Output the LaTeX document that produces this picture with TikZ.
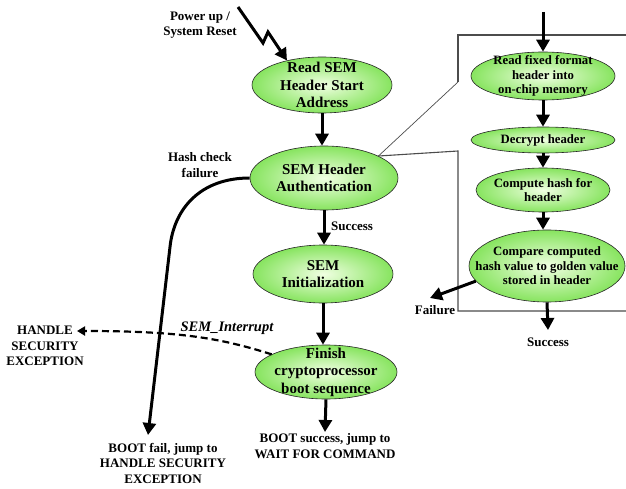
\documentclass[tikz,border=0pt]{standalone}
\usepackage{fontspec}
\setmainfont{Liberation Serif}
\usetikzlibrary{arrows.meta,shapes.geometric}
\definecolor{greenin}{RGB}{240,255,226}
\definecolor{greenout}{RGB}{135,228,95}
\begin{document}
\begin{tikzpicture}[x=1pt,y=-1pt,
  stage/.style={ellipse, draw=black!85, line width=0.6pt, inner sep=0pt,
                inner color=greenin, outer color=greenout},
  bigtxt/.style={font=\bfseries\fontsize{15}{17.5}\selectfont, align=center, inner sep=0pt},
  smalltxt/.style={font=\bfseries\fontsize{12.75}{14.5}\selectfont, align=center, inner sep=0pt},
  lbl/.style={font=\bfseries\fontsize{13}{15.5}\selectfont, align=center, inner sep=0pt},
  flow/.style={line width=3pt, -{Triangle[length=12pt,width=13pt]}},
  boxline/.style={draw=black!70, line width=1.1pt, line join=miter}
]
\useasboundingbox (0,0) rectangle (626,489);

% main boot sequence
\node[stage, minimum width=140pt, minimum height=56pt] (e1) at (322,85) {};
\node[bigtxt] (t1) at (e1) {Read SEM\\Header Start\\Address};
\node[stage, minimum width=148pt, minimum height=64pt] (e2) at (324,178) {};
\node[bigtxt] (t2) at (e2) {SEM Header\\Authentication};
\node[stage, minimum width=140pt, minimum height=58pt] (e3) at (323,274) {};
\node[bigtxt] (t3) at (e3) {SEM\\Initialization};
\node[stage, minimum width=142pt, minimum height=54pt] (e4) at (326,372) {};
\node[bigtxt] (t4) at (e4) {Finish\\cryptoprocessor\\boot sequence};

% header authentication detail
\node[stage, minimum width=144pt, minimum height=48pt] (e5) at (543,76) {};
\node[smalltxt] (t5) at (e5) {Read fixed format\\header into\\on-chip memory};
\node[stage, minimum width=144pt, minimum height=26pt] (e6) at (543,140) {};
\node[smalltxt] (t6) at (e6) {Decrypt header};
\node[stage, minimum width=134pt, minimum height=44pt] (e7) at (543,190) {};
\node[smalltxt] (t7) at (e7) {Compute hash for\\header};
\node[stage, minimum width=156pt, minimum height=72pt] (e8) at (547,266) {};
\node[smalltxt] (t8) at (e8) {Compare computed\\hash value to golden value\\stored in header};

% labels
\node[lbl] (pwr) at (200,25) {Power up /\\System Reset};
\node[lbl] (hcf) at (200,165) {Hash check\\failure};
\node[lbl] (suc1) at (352,226) {Success};
\node[lbl] (hse) at (45,346) {HANDLE\\SECURITY\\EXCEPTION};
\node[font=\bfseries\itshape\fontsize{14.5}{17}\selectfont, inner sep=0pt] (irq) at (227,328) {SEM\_Interrupt};
\node[lbl] (bfail) at (163,463) {BOOT fail, jump to\\HANDLE SECURITY\\EXCEPTION};
\node[lbl] (bok) at (325,446) {BOOT success, jump to\\WAIT FOR COMMAND};
\node[lbl] (fl) at (435,310) {Failure};
\node[lbl] (suc2) at (548,342) {Success};

% free ends
\coordinate (pz0) at (238,7);
\coordinate (pz1) at (263,43);
\coordinate (pz2) at (268,32);
\coordinate (failend) at (148,435);
\coordinate (okend) at (325,432);
\coordinate (hsetip) at (77,331);
\coordinate (intop) at (543,12);
\coordinate (flt) at (430,298);
\coordinate (sct) at (548,330);

% zoom frame around the detail
\coordinate (zc) at (e2.22);
\coordinate (zt1) at (458,82);
\coordinate (zt2) at (458,35);
\coordinate (zt3) at (626,35);
\coordinate (zb1) at (458,151);
\coordinate (zb2) at (458,311);
\coordinate (zb3) at (626,311);
\draw[boxline, line width=0.7pt] (zc) -- (zt1);
\draw[boxline] (zt1) -- (zt2) -- (zt3);
\draw[boxline] (zc) -- (zb1) -- (zb2) -- (zb3);

% connectors
\draw[flow, line join=miter] (pz0) -- (pz1) -- (pz2) -- (e1.145);
\draw[flow] (e1.south) -- (e1.south |- e2.north);
\draw[flow] (e2.south) -- (e2.south |- e3.north);
\draw[flow] (e3.south) -- (e3.south |- e4.north);
\draw[flow] (e4.south) -- (okend);
\draw[flow] (e2.west) .. controls (200,178) and (174,209) .. (170,247) -- (failend);
\draw[line width=2.2pt, dash pattern=on 7pt off 4pt, -{Triangle[length=8pt,width=9pt]}]
  (e4.162) .. controls (220,338) and (180,331) .. (hsetip);

\draw[flow] (intop) -- (e5.north);
\draw[flow] (e5.south) -- (e5.south |- e6.north);
\draw[flow] (e6.south) -- (e6.south |- e7.north);
\draw[flow] (e7.south) -- (e7.south |- e8.north);
\draw[flow] (e8.192) -- (flt);
\draw[flow] (e8.south) -- (sct);
\end{tikzpicture}
\end{document}
